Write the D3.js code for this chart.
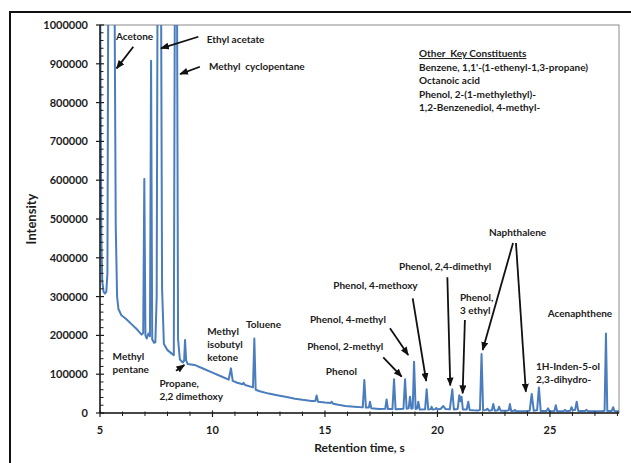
<!DOCTYPE html>
<html>
<head>
<meta charset="utf-8">
<script src="https://cdn.jsdelivr.net/npm/d3@7"></script>
<style>
  html, body { margin: 0; padding: 0; background: #fff; }
  svg { display: block; font-family: Lato, "Open Sans", "Liberation Sans", sans-serif; font-weight: bold; }
  text { white-space: pre; }
</style>
</head>
<body>
<svg id="chart" width="631" height="463"></svg>
<script>
// Chromatogram trace: retention time (s) and detector intensity
const retentionTime = [
  5.00, 5.06, 5.10, 5.16, 5.22, 5.28, 5.33, 5.37, 5.50, 5.64,
  5.70, 5.76, 5.82, 5.95, 6.15, 6.40, 6.65, 6.85, 6.92, 6.97,
  7.02, 7.08, 7.15, 7.22, 7.27, 7.32, 7.40, 7.46, 7.52, 7.56,
  7.64, 7.71, 7.76, 7.84, 8.00, 8.15, 8.28, 8.33, 8.37, 8.42,
  8.47, 8.55, 8.68, 8.74, 8.78, 8.83, 8.90, 9.20, 9.60, 10.00,
  10.40, 10.72, 10.82, 10.90, 11.10, 11.34, 11.38, 11.45, 11.80, 11.86,
  11.92, 12.10, 12.50, 12.93, 13.30, 13.67, 14.00, 14.40, 14.57, 14.63,
  14.69, 15.00, 15.25, 15.30, 15.36, 15.60, 15.90, 16.30, 16.68, 16.75,
  16.82, 16.95, 17.00, 17.06, 17.40, 17.68, 17.74, 17.80, 18.00, 18.07,
  18.14, 18.35, 18.49, 18.56, 18.63, 18.72, 18.78, 18.84, 18.90, 18.96,
  19.03, 19.10, 19.15, 19.21, 19.45, 19.52, 19.59, 19.70, 19.74, 19.79,
  19.90, 19.95, 20.00, 20.15, 20.26, 20.36, 20.55, 20.66, 20.73, 20.90,
  20.97, 21.02, 21.07, 21.13, 21.30, 21.37, 21.43, 21.60, 21.80, 21.89,
  21.96, 22.03, 22.15, 22.22, 22.29, 22.42, 22.48, 22.55, 22.68, 22.74,
  22.81, 23.05, 23.17, 23.22, 23.28, 23.40, 23.44, 23.50, 23.90, 24.10,
  24.19, 24.28, 24.43, 24.51, 24.59, 24.85, 24.92, 24.98, 25.20, 25.26,
  25.32, 25.60, 25.67, 25.74, 25.90, 25.96, 26.02, 26.12, 26.19, 26.26,
  26.55, 26.63, 26.70, 27.30, 27.43, 27.49, 27.55, 27.74, 27.81, 27.87,
  28.07
];
const intensity = [
  1150000, 450000, 340000, 312000, 308000, 312000, 360000, 1150000, 1300000, 1150000,
  480000, 300000, 268000, 252000, 243000, 229000, 215000, 202000, 206000, 603000,
  200000, 192000, 205000, 198000, 908000, 190000, 181000, 182000, 300000, 1150000,
  1250000, 1150000, 320000, 178000, 162000, 155000, 149000, 1150000, 1300000, 1150000,
  190000, 138000, 130000, 135000, 188000, 135000, 126000, 124000, 114000, 104000,
  94000, 86000, 115000, 83000, 78000, 74000, 78000, 72000, 66000, 192000,
  60000, 56000, 50000, 45000, 41000, 37000, 34000, 31000, 31000, 45000,
  29000, 27000, 26000, 29000, 24000, 21000, 18000, 16000, 14500, 85000,
  14000, 14000, 29000, 12000, 10500, 11000, 35000, 10000, 10500, 87000,
  9500, 10500, 11000, 87000, 11000, 12000, 42000, 11000, 12000, 132000,
  10000, 12000, 29000, 9000, 9500, 61000, 9000, 10000, 16000, 9000,
  10000, 13000, 9000, 11000, 18000, 10000, 9500, 61000, 9000, 10500,
  46000, 30000, 42000, 9000, 9000, 29000, 8000, 7000, 6500, 8000,
  152000, 7000, 7500, 11000, 6000, 7000, 23000, 6000, 7000, 16000,
  6000, 5500, 7000, 23000, 5000, 6000, 8000, 4500, 4500, 6000,
  49000, 6000, 7000, 66000, 5000, 5000, 12000, 4500, 5000, 20000,
  4500, 4500, 8000, 4500, 5500, 15000, 7000, 8000, 29000, 5000,
  5000, 8000, 4500, 4500, 6000, 205000, 5000, 5000, 15000, 4500,
  4500
];

// Axis ticks and titles
const xTickLabels = [5, 10, 15, 20, 25];
const yTickLabels = [0, 100000, 200000, 300000, 400000, 500000, 600000, 700000, 800000, 900000, 1000000];
const xTitle = "Retention time, s";
const yTitle = "Intensity";

// Compound names, anchored at (retention time, intensity)
const peakLabels = [
  { lines: ["Acetone"], t: 5.71, v: 961000 },
  { lines: ["Ethyl acetate"], t: 9.74, v: 953500 },
  { lines: ["Methyl  cyclopentane"], t: 9.84, v: 885200 },
  { lines: ["Methyl", "pentane"], t: 5.56, v: 136600 },
  { lines: ["Propane,", "2,2 dimethoxy"], t: 7.64, v: 67000 },
  { lines: ["Methyl", "isobutyl", "ketone"], t: 9.77, v: 202300 },
  { lines: ["Toluene"], t: 11.49, v: 217800 },
  { lines: ["Phenol"], t: 15.04, v: 97900 },
  { lines: ["Phenol, 2-methyl"], t: 14.21, v: 162400 },
  { lines: ["Phenol, 4-methyl"], t: 14.33, v: 233200 },
  { lines: ["Phenol, 4-methoxy"], t: 15.37, v: 319500 },
  { lines: ["Phenol, 2,4-dimethyl"], t: 18.29, v: 368500 },
  { lines: ["Phenol,", "3 ethyl"], t: 21.0, v: 288600 },
  { lines: ["Naphthalene"], t: 22.29, v: 457400 },
  { lines: ["1H-Inden-5-ol", "2,3-dihydro-"], t: 24.38, v: 110800 },
  { lines: ["Acenaphthene"], t: 24.9, v: 247400 }
];

// Pointer arrows: tail and head in (retention time, intensity)
const pointerArrows = [
  { from: [6.48, 943900], to: [5.74, 888300] },
  { from: [9.37, 969700], to: [7.71, 939800] },
  { from: [9.44, 892400], to: [8.56, 873600] },
  { from: [8.38, 109000], to: [8.75, 123700] },
  { from: [17.59, 143500], to: [18.41, 93500] },
  { from: [17.89, 218300], to: [18.70, 149500] },
  { from: [18.90, 295600], to: [19.50, 82500] },
  { from: [20.44, 349700], to: [20.57, 70900] },
  { from: [21.22, 239700], to: [21.12, 50800] },
  { from: [23.36, 438100], to: [22.01, 162400] },
  { from: [23.49, 438100], to: [23.93, 54900] }
];

// Side note listing further constituents
const keyConstituentsTitle = "Other  Key Constituents";
const keyConstituents = [
  "Benzene, 1,1'-(1-ethenyl-1,3-propane)",
  "Octanoic acid",
  "Phenol, 2-(1-methylethyl)-",
  "1,2-Benzenediol, 4-methyl-"
];
const keyConstituentsAnchor = { t: 19.18, v: 917400 };

// ---- drawing ----
const svg = d3.select("#chart");
const plot = { left: 100, right: 619, top: 25, bottom: 413 };
const ink = "#1c1c1c";
const traceColor = "#4a7dbd";

const x = d3.scaleLinear().domain([5, 28.07]).range([plot.left, plot.right]);
const y = d3.scaleLinear().domain([0, 1000000]).range([plot.bottom, plot.top]);

// outer frame
svg.append("rect")
  .attr("x", 10).attr("y", 12).attr("width", 700).attr("height", 600)
  .attr("fill", "none").attr("stroke", "#111").attr("stroke-width", 2);

const defs = svg.append("defs");
defs.append("clipPath").attr("id", "plot-clip")
  .append("rect")
  .attr("x", plot.left).attr("y", plot.top)
  .attr("width", plot.right - plot.left).attr("height", plot.bottom - plot.top);
defs.append("marker")
  .attr("id", "arrowhead")
  .attr("viewBox", "0 0 10 8")
  .attr("refX", 9).attr("refY", 4)
  .attr("markerWidth", 9).attr("markerHeight", 7)
  .attr("markerUnits", "userSpaceOnUse")
  .attr("orient", "auto")
  .append("path").attr("d", "M0,0 L10,4 L0,8 Z").attr("fill", "#111");

// plot-area border
svg.append("rect")
  .attr("x", plot.left).attr("y", plot.top)
  .attr("width", plot.right - plot.left).attr("height", plot.bottom - plot.top)
  .attr("fill", "none").attr("stroke", "#8a8a8a").attr("stroke-width", 1);

// trace
const line = d3.line()
  .x(i => x(retentionTime[i]))
  .y(i => y(intensity[i]));
svg.append("path")
  .attr("clip-path", "url(#plot-clip)")
  .attr("d", line(d3.range(retentionTime.length)))
  .attr("fill", "none")
  .attr("stroke", traceColor)
  .attr("stroke-width", 2)
  .attr("stroke-linejoin", "round");

// y axis
const yAxis = svg.append("g");
yAxis.append("line")
  .attr("x1", plot.left).attr("x2", plot.left)
  .attr("y1", plot.top).attr("y2", plot.bottom)
  .attr("stroke", ink).attr("stroke-width", 1.5);
const yMinor = d3.range(0, 1000001, 20000).filter(v => v % 100000 !== 0);
yAxis.selectAll(".ymin").data(yMinor).join("line")
  .attr("x1", plot.left).attr("x2", plot.left + 3.5)
  .attr("y1", d => y(d)).attr("y2", d => y(d))
  .attr("stroke", ink).attr("stroke-width", 1);
yAxis.selectAll(".ymaj").data(yTickLabels).join("line")
  .attr("x1", plot.left - 4).attr("x2", plot.left + 4)
  .attr("y1", d => y(d)).attr("y2", d => y(d))
  .attr("stroke", ink).attr("stroke-width", 1.2);
yAxis.selectAll("text").data(yTickLabels).join("text")
  .attr("x", plot.left - 12).attr("y", d => y(d) + 4)
  .attr("text-anchor", "end").attr("font-size", 11).attr("fill", ink)
  .text(d => d3.format("d")(d));

// x axis
const xAxis = svg.append("g");
xAxis.append("line")
  .attr("x1", plot.left).attr("x2", plot.right)
  .attr("y1", plot.bottom).attr("y2", plot.bottom)
  .attr("stroke", ink).attr("stroke-width", 1.5);
const xMinor = d3.range(6, 28.5, 1).filter(t => t % 5 !== 0);
xAxis.selectAll(".xmin").data(xMinor).join("line")
  .attr("x1", d => x(d)).attr("x2", d => x(d))
  .attr("y1", plot.bottom - 1.5).attr("y2", plot.bottom + 3)
  .attr("stroke", ink).attr("stroke-width", 1);
xAxis.selectAll(".xmaj").data(xTickLabels).join("line")
  .attr("x1", d => x(d)).attr("x2", d => x(d))
  .attr("y1", plot.bottom - 2.5).attr("y2", plot.bottom + 4)
  .attr("stroke", ink).attr("stroke-width", 1.2);
xAxis.selectAll("text").data(xTickLabels).join("text")
  .attr("x", d => x(d)).attr("y", plot.bottom + 21)
  .attr("text-anchor", "middle").attr("font-size", 11).attr("fill", ink)
  .text(d => d);

// axis titles
svg.append("text")
  .attr("x", (plot.left + plot.right) / 2).attr("y", 452)
  .attr("text-anchor", "middle").attr("font-size", 12).attr("fill", ink)
  .text(xTitle);
svg.append("text")
  .attr("transform", `translate(36,${(plot.top + plot.bottom) / 2}) rotate(-90)`)
  .attr("text-anchor", "middle").attr("font-size", 13).attr("fill", ink)
  .text(yTitle);

// pointer arrows
svg.append("g").selectAll("line").data(pointerArrows).join("line")
  .attr("x1", d => x(d.from[0])).attr("y1", d => y(d.from[1]))
  .attr("x2", d => x(d.to[0])).attr("y2", d => y(d.to[1]))
  .attr("stroke", "#111").attr("stroke-width", 1.8)
  .attr("marker-end", "url(#arrowhead)");

// compound labels
const lineGap = 13.3;
const labels = svg.append("g").selectAll("text").data(peakLabels).join("text")
  .attr("x", d => x(d.t)).attr("y", d => y(d.v))
  .attr("font-size", 10).attr("fill", ink);
labels.selectAll("tspan").data(d => d.lines.map(s => ({ s, t: d.t }))).join("tspan")
  .attr("x", d => x(d.t))
  .attr("dy", (d, i) => i === 0 ? 0 : lineGap)
  .text(d => d.s);

// side note
const note = svg.append("text")
  .attr("x", x(keyConstituentsAnchor.t)).attr("y", y(keyConstituentsAnchor.v))
  .attr("font-size", 10).attr("fill", ink);
note.append("tspan").attr("x", x(keyConstituentsAnchor.t))
  .style("text-decoration", "underline").text(keyConstituentsTitle);
keyConstituents.forEach(s => {
  note.append("tspan").attr("x", x(keyConstituentsAnchor.t)).attr("dy", 13.5).text(s);
});
</script>
</body>
</html>
